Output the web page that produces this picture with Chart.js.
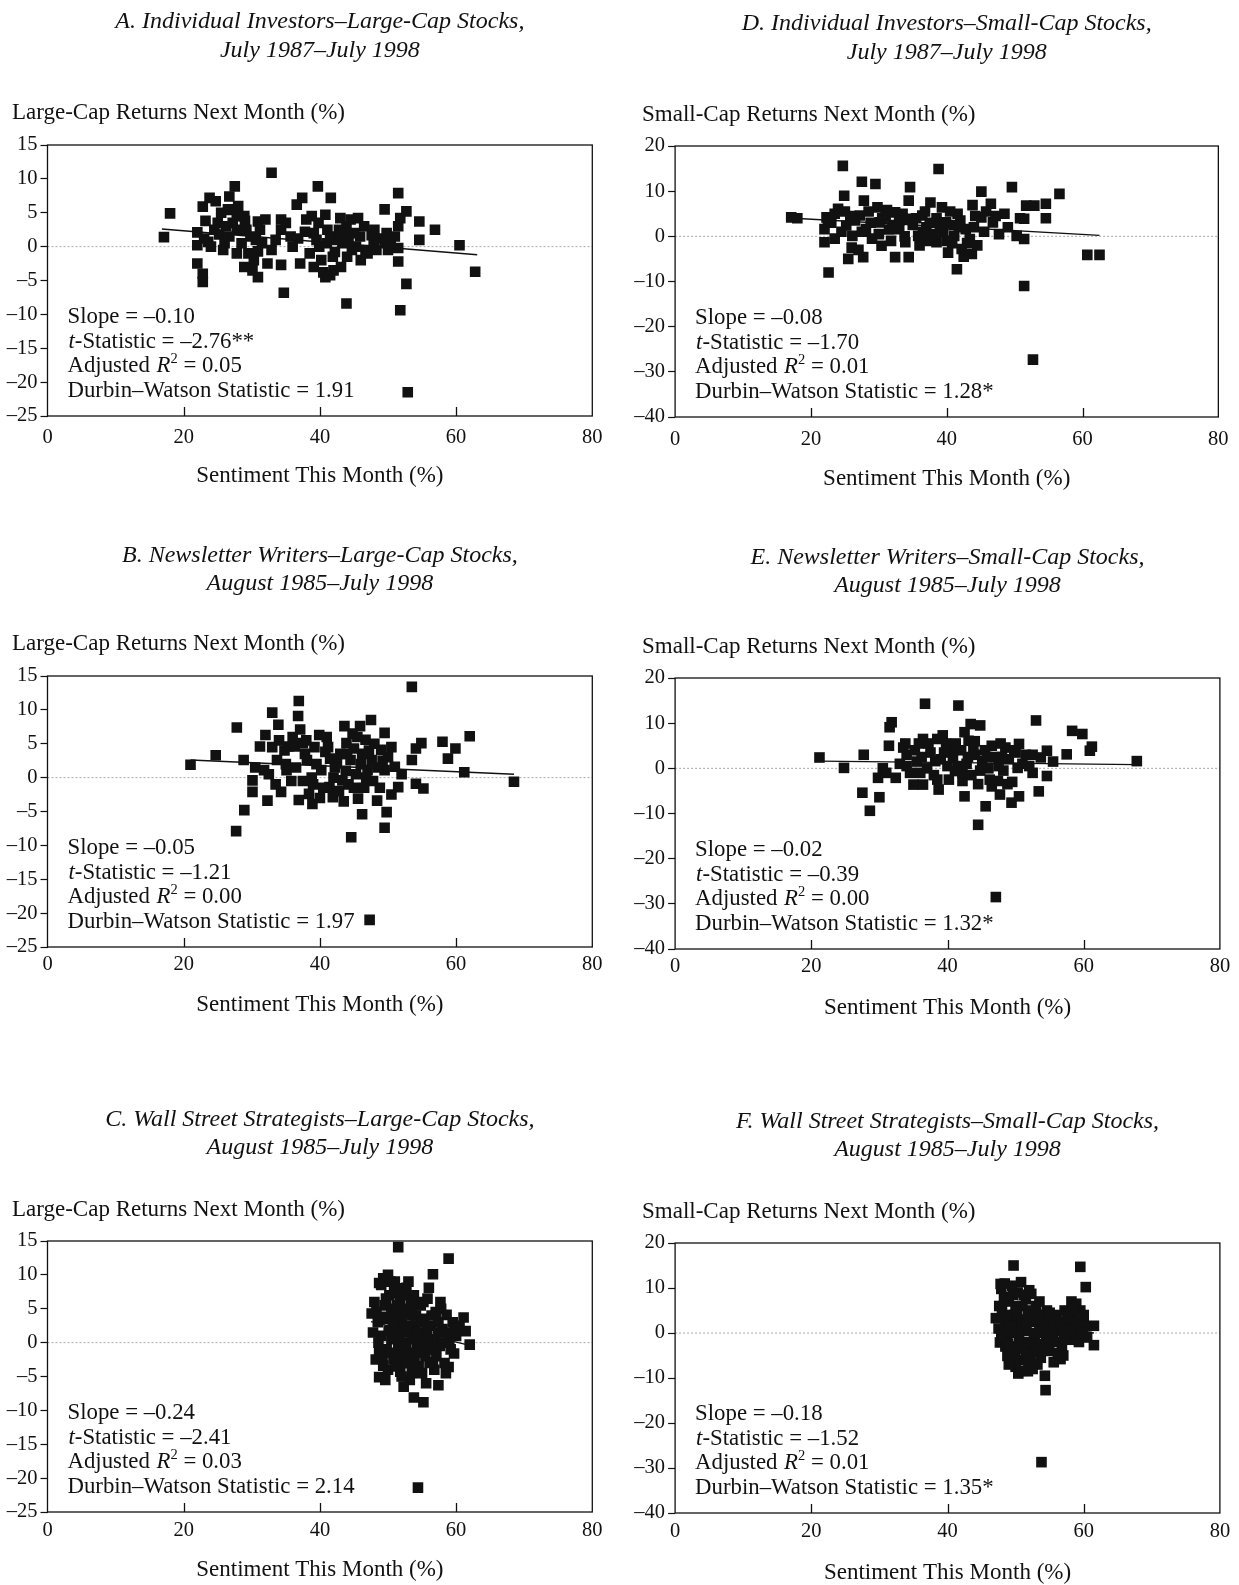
<!DOCTYPE html>
<html>
<head>
<meta charset="utf-8">
<script src="https://cdn.jsdelivr.net/npm/chart.js@4.4.0/dist/chart.umd.min.js"></script>
<style>
  html, body { margin: 0; padding: 0; background: #fff; overflow: hidden; }
  body { width: 1239px; height: 1585px; position: relative; }
  canvas { position: absolute; }
</style>
</head>
<body>
<canvas id="panelA"></canvas>
<canvas id="panelB"></canvas>
<canvas id="panelC"></canvas>
<canvas id="panelD"></canvas>
<canvas id="panelE"></canvas>
<canvas id="panelF"></canvas>
<script>
// ************** axis ticks *******************
const sentimentTicks = [0, 20, 40, 60, 80];
const largeCapTicks = [-25, -20, -15, -10, -5, 0, 5, 10, 15];
const smallCapTicks = [-40, -30, -20, -10, 0, 10, 20];

// ************** points: [sentiment this month, return next month] *******************
const indivLarge = [[17.1,1.4],[18.0,4.9],[22.0,2.1],[22.0,0.2],[22.0,-2.5],[22.8,5.9],[22.8,-4.0],[22.8,-5.2],[23.8,7.2],[24.7,6.7],
  [23.6,0.7],[25.0,3.5],[25.8,-0.5],[26.7,7.4],[27.0,5.4],[27.5,8.9],[27.2,3.5],[27.8,2.5],[27.8,-1.0],[26.7,1.5],
  [28.9,4.5],[29.2,2.5],[28.9,-3.0],[30.1,-3.5],[30.9,3.7],[30.6,1.0],[30.9,-0.7],[30.9,-4.5],[32.3,-2.5],[32.9,10.9],
  [32.9,-0.5],[34.3,4.0],[34.3,2.5],[34.3,-2.7],[34.7,-6.8],[35.7,1.5],[36.6,6.2],[37.4,7.2],[37.1,-2.5],[36.8,1.2],
  [38.0,4.0],[38.8,4.5],[39.7,8.9],[39.1,2.0],[39.1,-3.0],[39.9,0.0],[40.8,4.7],[40.8,-4.5],[41.1,2.5],[41.6,7.2],
  [41.9,-1.5],[42.8,2.5],[43.1,-3.0],[43.3,0.5],[43.9,-8.4],[43.9,3.0],[44.5,4.0],[44.7,-0.5],[45.6,4.2],[45.9,1.5],
  [46.7,-0.5],[47.6,1.7],[47.9,0.2],[48.7,1.2],[49.5,5.5],[49.5,0.5],[50.4,1.0],[51.5,7.9],[51.5,3.0],[51.8,4.2],
  [51.5,-2.2],[51.8,-9.4],[51.5,-0.2],[52.7,5.2],[52.7,-5.5],[52.9,-21.5],[54.6,3.7],[54.6,1.0],[56.9,2.5],[60.5,0.2],
  [62.8,-3.7],[26.0,0.5],[24.5,2.5],[29.5,-1.0],[31.5,0.5],[33.5,1.0],[36.0,0.0],[38.5,-1.0],[40.2,-2.0],[41.0,0.5],
  [42.0,-3.5],[42.5,1.0],[44.0,-1.5],[45.0,2.0],[46.5,3.0],[47.0,-1.0],[48.0,2.5],[50.0,-0.5],[26.2,3.0],[28.0,6.0],
  [29.8,1.5],[25.5,5.0],[23.0,1.2],[30.3,-2.0],[40.5,-3.8],[41.5,-4.2],[39.5,1.0],[43.5,2.0],[45.3,0.0],[23.2,3.8],
  [24.0,0.0],[25.2,1.8],[26.5,5.5],[27.8,4.5],[28.5,0.5],[29.0,3.8],[31.2,2.5],[32.0,4.0],[35.0,3.5],[37.8,2.2],
  [39.8,3.5],[41.5,1.5],[42.2,-0.8],[43.0,4.2],[44.2,1.0],[46.0,-2.0],[48.3,-0.5],[49.8,2.0],[51.0,1.5]];

const indivSmall = [[17.1,4.2],[18.0,4.0],[22.6,-8.0],[22.0,-1.3],[22.0,1.6],[22.3,4.2],[24.0,6.1],[24.7,15.6],[24.9,9.0],[25.5,-5.0],
  [25.2,2.4],[26.1,0.1],[27.5,12.1],[27.7,-4.6],[27.8,7.9],[27.2,4.6],[28.1,1.6],[29.5,11.6],[29.8,6.4],[30.4,-2.1],
  [30.1,3.1],[31.0,4.6],[32.4,-4.6],[32.4,5.3],[33.0,1.6],[33.9,-1.3],[34.4,-4.6],[34.6,10.9],[34.4,7.9],[34.1,3.9],
  [35.8,0.1],[36.4,4.6],[37.6,7.5],[37.0,2.0],[38.8,14.9],[38.5,-1.3],[39.3,6.4],[39.9,3.1],[40.2,-3.6],[41.1,0.1],
  [41.5,-7.3],[41.6,5.0],[42.2,-2.8],[42.8,1.6],[43.7,-3.9],[43.8,6.9],[43.4,-0.6],[45.1,9.9],[45.1,4.2],[46.5,7.2],
  [46.8,3.1],[47.7,0.5],[48.5,5.0],[49.6,10.9],[50.3,0.1],[51.4,-0.6],[51.4,-11.0],[51.7,6.8],[51.4,3.9],[52.7,-27.3],
  [52.9,6.8],[54.6,7.2],[54.6,4.0],[56.6,9.4],[60.7,-4.1],[62.5,-4.1],[23.0,3.0],[23.5,-0.5],[24.5,1.0],[26.5,3.5],
  [26.0,-2.5],[27.0,-3.0],[28.5,5.5],[29.0,-0.5],[31.5,1.5],[31.8,-1.0],[33.5,5.0],[35.0,2.5],[36.0,-2.0],[36.8,5.5],
  [38.0,0.5],[38.5,4.0],[39.5,1.0],[40.5,5.5],[40.8,-1.5],[42.0,3.5],[42.5,-4.5],[44.0,2.0],[44.5,-2.0],[45.5,1.0],
  [30.5,4.0],[25.0,5.5],[22.5,3.5],[33.0,3.5],[37.5,3.0],[41.0,2.5],[23.5,5.0],[25.8,4.5],[27.5,1.0],[28.8,3.0],
  [30.0,0.5],[31.2,5.8],[32.0,2.5],[33.8,0.0],[35.5,4.0],[36.5,1.0],[37.2,-1.0],[39.0,2.0],[40.0,-1.0],[41.8,2.0],
  [43.0,-1.5],[44.2,4.5],[45.8,5.5],[47.2,4.5],[49.0,2.0],[50.8,4.0]];

const newsLarge = [[21.0,1.9],[24.7,3.3],[27.8,7.4],[27.7,-7.9],[28.9,-4.8],[28.8,2.6],[30.1,-0.4],[30.1,-2.1],[31.2,4.6],[31.8,1.1],
  [32.3,-3.4],[32.0,6.3],[33.0,9.6],[33.9,7.8],[33.7,2.6],[34.3,-2.1],[35.1,1.1],[35.4,4.6],[36.9,11.3],[36.8,9.1],
  [37.1,7.1],[36.9,-3.3],[36.3,4.6],[37.5,5.1],[38.1,2.6],[38.4,-2.4],[38.9,-3.9],[39.9,6.3],[40.2,1.1],[40.8,3.8],
  [41.4,-1.4],[41.9,-2.9],[42.5,2.1],[43.3,-0.4],[43.6,7.6],[43.9,5.1],[44.6,-8.8],[44.5,2.6],[45.0,4.3],[45.6,-3.1],
  [45.9,7.6],[46.2,-5.4],[46.7,5.6],[47.0,1.1],[47.5,8.5],[47.3,-21.0],[47.6,2.6],[48.4,-3.4],[49.0,4.1],[49.5,6.6],
  [49.5,1.1],[49.8,-5.1],[49.5,-7.4],[51.0,1.6],[51.5,-1.4],[53.5,13.4],[53.5,2.6],[54.1,4.3],[54.1,-0.9],[54.9,5.1],
  [55.2,-1.6],[58.0,5.3],[58.8,2.8],[59.9,4.3],[61.2,0.8],[62.0,6.1],[68.5,-0.6],[32.5,0.5],[34.8,4.0],[35.8,-0.5],
  [37.8,3.5],[38.8,0.0],[39.5,2.0],[40.5,-1.5],[41.2,4.5],[42.0,0.0],[42.8,-2.0],[43.8,1.0],[44.2,-1.0],[45.3,0.5],
  [46.0,2.0],[46.5,-1.5],[47.8,-0.5],[48.5,1.5],[50.0,3.0],[48.0,5.0],[44.8,6.5],[36.0,6.0],[33.0,4.5],[41.5,2.8],
  [39.2,4.5],[46.8,0.0],[43.0,3.5],[30.5,1.5],[50.5,-2.5],[33.5,-1.0],[35.0,2.0],[36.5,1.5],[37.5,-0.5],[38.0,5.5],
  [40.0,-3.0],[41.0,6.0],[42.2,1.5],[43.5,-3.5],[44.0,3.5],[45.5,6.0],[46.2,3.5],[47.2,4.0],[48.8,-1.5],[49.2,2.5],
  [50.5,4.5],[52.0,0.5],[34.0,5.5],[39.0,-1.0],[45.0,-1.5]];

const newsSmall = [[21.2,2.4],[24.8,0.1],[27.7,3.0],[27.5,-5.4],[28.6,-9.4],[30.0,-6.4],[29.8,-2.1],[31.8,10.2],[31.5,9.1],[31.4,5.0],
  [32.4,-2.1],[33.5,4.6],[35.0,-3.6],[36.4,-3.6],[36.7,14.3],[36.4,6.5],[38.2,1.6],[38.7,-4.7],[39.3,7.3],[40.5,4.6],
  [41.1,-0.6],[41.6,13.9],[42.2,-2.8],[42.5,8.0],[43.1,6.1],[43.4,9.8],[42.5,-6.2],[44.5,-12.5],[44.8,9.5],[45.1,1.6],
  [45.6,-8.4],[46.5,5.0],[47.1,-28.5],[47.4,-2.8],[47.7,-5.8],[48.5,4.6],[49.4,-7.6],[50.5,5.4],[50.5,-6.2],[50.3,0.1],
  [53.0,10.6],[53.4,-5.1],[53.7,2.4],[54.6,-1.7],[54.6,3.9],[57.5,3.1],[58.3,8.3],[59.8,7.6],[60.9,3.9],[61.2,4.8],
  [67.8,1.6],[33.0,1.0],[34.0,3.0],[35.5,1.5],[35.8,5.5],[37.0,0.0],[37.5,3.5],[38.0,-1.5],[39.0,2.0],[39.8,5.5],
  [40.2,-2.5],[40.8,2.5],[41.5,0.5],[42.0,4.0],[42.8,1.0],[43.5,-1.5],[44.0,3.0],[44.5,-3.5],[45.5,4.0],[46.0,0.0],
  [46.5,-4.0],[47.0,2.5],[47.8,5.5],[48.2,-0.5],[49.0,2.0],[49.5,-3.0],[50.0,3.5],[51.0,1.0],[52.0,0.5],[36.0,-1.0],
  [34.5,-1.0],[38.5,6.5],[44.0,6.0],[33.8,5.5],[30.5,0.0],[31.0,-1.0],[52.5,3.0],[55.5,1.5],[34.0,0.5],[35.2,4.0],
  [36.2,2.5],[37.2,5.5],[38.5,-2.5],[39.5,3.5],[40.0,0.5],[41.2,5.5],[42.2,-1.0],[43.0,2.5],[43.8,4.5],[44.8,-0.5],
  [45.8,2.5],[46.2,-2.5],[47.5,0.5],[48.0,2.5],[48.8,-3.5],[49.8,4.0],[51.5,3.0],[52.5,-1.0]];

const streetLarge = [[51.5,14.1],[58.9,12.4],[56.6,10.1],[49.3,9.5],[48.7,8.8],[56.0,8.1],[52.7,8.1],[51.5,7.3],[47.6,4.3],[61.1,3.7],
  [61.4,1.7],[62.0,-0.3],[58.6,4.1],[59.7,-1.6],[48.7,-5.1],[53.2,-5.5],[57.4,-6.3],[53.8,-8.1],[55.2,-8.8],[54.4,-21.4],
  [58.9,-3.6],[56.6,-2.9],[51.8,-4.3],[49.3,-3.4],[48.7,-1.4],[48.0,6.0],[48.5,3.0],[49.0,1.0],[49.5,5.5],[49.8,-1.0],
  [50.0,3.5],[50.2,7.0],[50.5,0.5],[50.8,-2.5],[51.0,4.5],[51.2,2.0],[51.5,-0.5],[51.8,6.0],[52.0,3.0],[52.2,0.0],
  [52.5,-3.0],[52.8,5.0],[53.0,1.5],[53.3,-1.5],[53.5,4.0],[53.8,7.0],[54.0,2.5],[54.2,-0.5],[54.5,-3.5],[54.8,5.5],
  [55.0,1.0],[55.3,3.5],[55.5,-2.0],[55.8,6.5],[56.0,0.5],[56.3,2.5],[56.5,-1.0],[57.0,4.5],[57.3,1.5],[57.6,-0.5],
  [58.0,2.0],[58.3,-3.0],[59.0,0.5],[60.0,1.0],[60.5,2.5],[50.0,-4.0],[52.0,-5.0],[49.0,8.5],[51.0,9.0],[53.0,9.0],
  [47.8,1.5],[48.2,-2.5],[50.5,5.0],[55.0,-4.5],[56.8,-4.0],[57.8,5.0],[53.5,-4.5],[52.5,2.0],[54.5,0.0],[51.5,8.0],
  [50.0,10.0],[59.5,3.0],[58.5,-4.5],[48.3,4.5],[48.6,0.0],[49.2,-2.0],[49.4,3.8],[49.7,6.5],[50.1,1.8],[50.4,-1.5],
  [50.7,3.0],[50.9,8.0],[51.1,-3.5],[51.3,5.5],[51.6,1.0],[51.9,-2.0],[52.1,4.5],[52.4,7.0],[52.6,-1.0],[52.9,2.5],
  [53.1,-3.0],[53.4,5.5],[53.6,0.5],[53.9,-2.5],[54.1,4.0],[54.4,1.5],[54.7,-1.5],[54.9,3.0],[55.2,6.0],[55.4,-0.5],
  [55.7,2.0],[56.1,-3.0],[56.4,4.0],[56.7,0.0],[57.1,-2.0],[57.4,3.0],[57.7,6.0],[58.1,0.0],[58.6,1.5],[59.2,-1.0],
  [59.8,2.0],[49.6,-5.5],[52.3,-6.5],[55.6,-6.0],[50.3,9.0]];

const streetSmall = [[49.7,15.0],[59.5,14.7],[47.8,10.9],[47.9,9.8],[60.3,10.2],[50.8,11.3],[52.3,8.7],[47.1,3.3],[58.9,6.5],[61.5,1.6],
  [61.5,-2.7],[54.3,-9.5],[54.4,-12.7],[53.8,-28.7],[51.0,-8.4],[48.8,-5.1],[56.6,-5.8],[47.7,-2.1],[48.0,5.0],[48.5,2.0],
  [48.8,-1.0],[49.0,7.0],[49.5,0.0],[49.8,4.0],[50.0,-3.0],[50.3,9.0],[50.5,2.0],[50.8,-6.0],[51.0,6.0],[51.3,0.5],
  [51.5,-2.5],[51.8,4.0],[52.0,9.5],[52.2,-5.0],[52.5,2.5],[52.8,-1.0],[53.0,6.0],[53.2,-7.0],[53.5,1.0],[53.8,4.0],
  [54.0,-3.5],[54.3,0.0],[54.6,5.0],[55.0,-2.0],[55.3,2.5],[55.6,-6.5],[56.0,4.0],[56.4,0.5],[56.8,-3.0],[57.2,5.0],
  [57.5,2.0],[57.8,-1.5],[58.2,7.0],[58.5,3.0],[59.0,0.0],[59.5,5.0],[60.0,2.0],[60.5,-1.0],[57.0,-5.0],[50.0,-7.5],
  [49.2,-4.0],[48.2,0.5],[52.5,-8.0],[55.0,4.5],[53.0,3.0],[51.0,3.0],[47.5,1.0],[48.5,-3.0],[49.0,3.0],[50.0,6.0],
  [50.5,-1.0],[51.5,7.5],[52.0,-2.0],[53.0,-4.0],[53.5,7.0],[54.8,2.0],[55.5,0.0],[56.0,-2.0],[57.0,1.0],[58.0,4.5],
  [58.8,1.5],[59.3,-2.0],[60.0,4.0],[49.5,10.5],[51.5,-4.5],[47.6,6.0],[47.9,-0.5],[48.3,8.0],[48.6,4.0],[48.9,-2.5],
  [49.3,1.5],[49.6,8.5],[49.9,-5.5],[50.2,4.5],[50.6,-3.5],[50.9,1.0],[51.2,8.5],[51.6,2.0],[51.9,-6.5],[52.3,5.0],
  [52.7,0.0],[53.1,-2.5],[53.4,4.0],[53.7,-5.5],[54.1,2.0],[54.5,-1.5],[54.9,-4.0],[55.2,1.0],[55.7,3.0],[56.2,-4.5],
  [56.6,2.5],[57.1,-1.0],[57.6,3.5],[58.1,0.5],[58.4,5.5],[58.9,-1.0],[59.4,2.5],[59.9,0.0],[60.4,1.5],[50.4,-9.0],
  [49.0,-7.0],[51.8,-8.5],[48.4,11.0]];

// ************** fitted regression lines: [start, end] *******************
const indivLargeFit = [[16.8,2.6],[63.1,-1.2]];
const indivSmallFit = [[17.5,4.0],[62.5,0.2]];
const newsLargeFit = [[21.0,2.6],[68.5,0.5]];
const newsSmallFit = [[21.2,1.6],[67.8,0.8]];
const streetLargeFit = [[47.5,3.1],[62.0,-0.4]];
const streetSmallFit = [[47.0,2.6],[61.5,0.0]];
const zeroLine = [[0,0],[80,0]];

// ************** regression statistics: slope, t, adj R2, Durbin-Watson *******************
const indivLargeStats = ['–0.10', '–2.76**', '0.05', '1.91'];
const indivSmallStats = ['–0.08', '–1.70', '0.01', '1.28*'];
const newsLargeStats = ['–0.05', '–1.21', '0.00', '1.97'];
const newsSmallStats = ['–0.02', '–0.39', '0.00', '1.32*'];
const streetLargeStats = ['–0.24', '–2.41', '0.03', '2.14'];
const streetSmallStats = ['–0.18', '–1.52', '0.01', '1.35*'];

const serif = "'Liberation Serif', 'Times New Roman', serif";
const ink = '#111';
const AREA_TOP = 145;   // chart area top inside every canvas
const X_AXIS_H = 76;    // height given to the x axis (labels + title)

// **************frame, inner x ticks, y axis heading and the statistics box*******************
const panelDecor = {
  id: 'panelDecor',
  afterDraw(chart, args, opts) {
    const ctx = chart.ctx;
    const a = chart.chartArea;
    ctx.save();
    ctx.strokeStyle = ink;
    ctx.lineWidth = 1.3;
    ctx.strokeRect(a.left, a.top, a.right - a.left, a.bottom - a.top);

    // x ticks point up into the plot
    const xs = chart.scales.x;
    [20, 40, 60].forEach(function (v) {
      const px = Math.round(xs.getPixelForValue(v)) + 0.5;
      ctx.beginPath();
      ctx.moveTo(px, a.bottom);
      ctx.lineTo(px, a.bottom - 9);
      ctx.stroke();
    });

    ctx.fillStyle = ink;
    ctx.textBaseline = 'middle';

    // horizontal y axis heading above the plot
    ctx.font = '23px ' + serif;
    ctx.fillText(opts.yTitle, opts.yTitleX, opts.yTitleCentre);

    const s = opts.values;
    const lines = [
      [{ t: 'Slope = ' + s[0] }],
      [{ t: 't', it: true }, { t: '-Statistic = ' + s[1] }],
      [{ t: 'Adjusted ' }, { t: 'R', it: true }, { t: '2', sup: true }, { t: ' = ' + s[2] }],
      [{ t: 'Durbin–Watson Statistic = ' + s[3] }]
    ];
    lines.forEach(function (segs, i) {
      let x = a.left + 20;
      const y = a.bottom - 99 + i * 24.6;
      segs.forEach(function (seg) {
        const size = seg.sup ? 14.5 : 22.8;
        ctx.font = (seg.it ? 'italic ' : '') + size + 'px ' + serif;
        ctx.fillText(seg.t, x + (seg.it ? 1 : 0), seg.sup ? y - 7 : y);
        x += ctx.measureText(seg.t).width + (seg.it ? 1 : 0);
      });
    });
    ctx.restore();
  }
};

function toXY(pairs) {
  return pairs.map(function (p) { return { x: p[0], y: p[1] }; });
}

function dashMinus(v) {
  return v < 0 ? '–' + Math.abs(v) : String(v);
}

function drawPanel(p) {
  const canvas = document.getElementById(p.id);
  const leftCol = p.col === 0;
  const canvasLeft = leftCol ? 0 : 630;
  const canvasWidth = leftCol ? 612 : 609;
  const plotLeft = leftCol ? 47.5 : 675.1;
  const yTitleX = (leftCol ? 12 : 642) - canvasLeft;
  const plotWidth = 544.8;
  const yWidth = plotLeft - canvasLeft;
  canvas.width = canvasWidth;
  canvas.height = AREA_TOP + p.plotHeight + X_AXIS_H;
  canvas.style.left = canvasLeft + 'px';
  canvas.style.top = (p.plotTop - AREA_TOP) + 'px';

  // vertical text placement (centres given relative to the plot box)
  const titleLH = 28.5;
  const titleTop = AREA_TOP + p.titleY + 1.5 - titleLH / 2;
  const titleBottomPad = AREA_TOP - (titleTop + 2 * titleLH);
  const tickPad = p.xLabelY + 1.5 - 12.3;
  const xTitlePad = X_AXIS_H - (p.xTitleY + 2) - 13.8;

  new Chart(canvas, {
    type: 'scatter',
    data: {
      datasets: [{
        label: 'Months',
        data: toXY(p.points),
        pointStyle: 'rect',
        pointRadius: 7.5,
        backgroundColor: ink,
        borderWidth: 0
      }, {
        label: 'Regression',
        data: toXY(p.fit),
        showLine: true,
        pointRadius: 0,
        borderColor: ink,
        borderWidth: 1.3
      }, {
        label: 'Zero',
        data: toXY(zeroLine),
        showLine: true,
        pointRadius: 0,
        borderColor: '#a8a8a8',
        borderWidth: 1,
        borderDash: [2, 2]
      }]
    },
    options: {
      responsive: false,
      animation: false,
      devicePixelRatio: 1,
      layout: { padding: { left: 0, right: canvasWidth - yWidth - plotWidth, top: 0, bottom: 0 } },
      plugins: {
        legend: { display: false },
        tooltip: { enabled: false },
        title: {
          display: true,
          text: p.title,
          fullSize: false,
          color: ink,
          font: { family: serif, size: 24, style: 'italic', weight: 'normal', lineHeight: titleLH / 24 },
          padding: { top: titleTop, bottom: titleBottomPad }
        },
        panelDecor: {
          values: p.stats,
          yTitle: p.yTitle,
          yTitleX: yTitleX,
          yTitleCentre: AREA_TOP + p.yTitleY + 2
        }
      },
      scales: {
        x: {
          type: 'linear',
          min: 0,
          max: 80,
          afterBuildTicks: function (scale) { scale.ticks = sentimentTicks.map(function (v) { return { value: v }; }); },
          ticks: { padding: tickPad, color: ink, font: { family: serif, size: 20.5 } },
          grid: { display: false, drawTicks: false },
          border: { display: false },
          title: {
            display: true,
            text: 'Sentiment This Month (%)',
            color: ink,
            font: { family: serif, size: 23, lineHeight: 1.2 },
            padding: { top: 0, bottom: xTitlePad }
          },
          afterFit: function (scale) { scale.height = X_AXIS_H; }
        },
        y: {
          type: 'linear',
          min: p.yTicks[0],
          max: p.yTicks[p.yTicks.length - 1],
          afterBuildTicks: function (scale) { scale.ticks = p.yTicks.map(function (v) { return { value: v }; }); },
          ticks: { padding: 3, color: ink, font: { family: serif, size: 20.5 }, callback: dashMinus },
          grid: { drawOnChartArea: false, drawTicks: true, tickLength: 7, color: ink, tickColor: ink, tickWidth: 1.2 },
          border: { display: false },
          afterFit: function (scale) { scale.width = yWidth; }
        }
      }
    },
    plugins: [panelDecor]
  });
}

drawPanel({ id: 'panelA', col: 0, plotTop: 145, plotHeight: 271,
  titleY: -124.8, yTitleY: -34.5, xLabelY: 20.2, xTitleY: 57.6,
  title: ['A. Individual Investors–Large-Cap Stocks,', 'July 1987–July 1998'],
  yTitle: 'Large-Cap Returns Next Month (%)', yTicks: largeCapTicks,
  points: indivLarge, fit: indivLargeFit, stats: indivLargeStats });

drawPanel({ id: 'panelD', col: 1, plotTop: 146, plotHeight: 271,
  titleY: -123.8, yTitleY: -33.3, xLabelY: 21.2, xTitleY: 59.6,
  title: ['D. Individual Investors–Small-Cap Stocks,', 'July 1987–July 1998'],
  yTitle: 'Small-Cap Returns Next Month (%)', yTicks: smallCapTicks,
  points: indivSmall, fit: indivSmallFit, stats: indivSmallStats });

drawPanel({ id: 'panelB', col: 0, plotTop: 676, plotHeight: 271,
  titleY: -122.2, yTitleY: -34.4, xLabelY: 16.1, xTitleY: 55.5,
  title: ['B. Newsletter Writers–Large-Cap Stocks,', 'August 1985–July 1998'],
  yTitle: 'Large-Cap Returns Next Month (%)', yTicks: largeCapTicks,
  points: newsLarge, fit: newsLargeFit, stats: newsLargeStats });

drawPanel({ id: 'panelE', col: 1, plotTop: 678, plotHeight: 271,
  titleY: -122.2, yTitleY: -33.3, xLabelY: 16.1, xTitleY: 56.5,
  title: ['E. Newsletter Writers–Small-Cap Stocks,', 'August 1985–July 1998'],
  yTitle: 'Small-Cap Returns Next Month (%)', yTicks: smallCapTicks,
  points: newsSmall, fit: newsSmallFit, stats: newsSmallStats });

drawPanel({ id: 'panelC', col: 0, plotTop: 1241, plotHeight: 271,
  titleY: -123.3, yTitleY: -33.3, xLabelY: 17.1, xTitleY: 55.5,
  title: ['C. Wall Street Strategists–Large-Cap Stocks,', 'August 1985–July 1998'],
  yTitle: 'Large-Cap Returns Next Month (%)', yTicks: largeCapTicks,
  points: streetLarge, fit: streetLargeFit, stats: streetLargeStats });

drawPanel({ id: 'panelF', col: 1, plotTop: 1243, plotHeight: 270,
  titleY: -123.3, yTitleY: -33.3, xLabelY: 17.1, xTitleY: 57.6,
  title: ['F. Wall Street Strategists–Small-Cap Stocks,', 'August 1985–July 1998'],
  yTitle: 'Small-Cap Returns Next Month (%)', yTicks: smallCapTicks,
  points: streetSmall, fit: streetSmallFit, stats: streetSmallStats });
</script>
</body>
</html>
